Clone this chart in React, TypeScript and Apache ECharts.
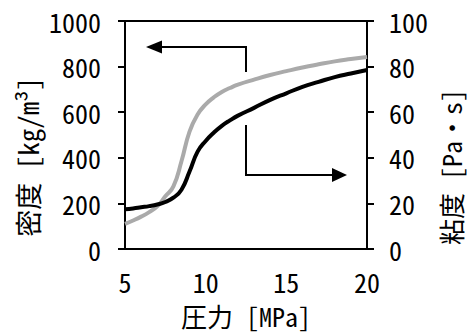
import React, { useEffect, useRef } from "react";
import * as echarts from "echarts";

const pressure = [5, 5.5, 6, 6.5, 7, 7.5, 8, 8.5, 9, 9.5, 10, 10.5, 11, 11.5, 12, 13, 14, 15, 16, 17, 18, 19, 20];
const density = [110, 125, 142, 162, 187, 231, 275, 385, 515, 590, 634, 665, 689, 706, 721, 743, 763, 780, 796, 810, 823, 833, 842];
const viscosity = [17.4, 17.8, 18.3, 18.8, 19.5, 20.6, 22.5, 26.0, 34.0, 42.7, 47.4, 51.0, 54.0, 56.4, 58.5, 61.9, 65.4, 68.3, 71.1, 73.3, 75.4, 77.0, 78.5];
const xTicks = [5, 10, 15, 20];
const xName = "圧力 [MPa]";
const leftName = "密度 [kg/m³]";
const rightName = "粘度 [Pa・s]";

const FONT = "'Noto Sans Mono CJK JP', 'Noto Sans CJK JP', sans-serif";

export default function App() {
  const ref = useRef<HTMLDivElement>(null);
  useEffect(() => {
    const chart = echarts.init(ref.current!, undefined, { renderer: "svg" });
    const axisLine = { show: true, lineStyle: { color: "#000", width: 2 } };
    const plain = (v: number) => String(v);
    chart.setOption({
      animation: false,
      backgroundColor: "#fff",
      textStyle: { fontFamily: FONT, color: "#000" },
      grid: {
        left: 125,
        right: 102,
        top: 21,
        bottom: 84,
        show: true,
        borderColor: "#000",
        borderWidth: 2,
      },
      xAxis: {
        type: "value",
        min: xTicks[0],
        max: xTicks[xTicks.length - 1],
        interval: 5,
        axisLine,
        axisTick: { show: false },
        splitLine: { show: false },
        axisLabel: { color: "#000", fontSize: 26, fontFamily: FONT, margin: 19, formatter: plain },
      },
      yAxis: [
        {
          type: "value",
          min: 0,
          max: 1000,
          interval: 200,
          position: "left",
          axisLine,
          axisTick: { show: true, inside: false, length: 7, lineStyle: { color: "#000", width: 2 } },
          splitLine: { show: false },
          axisLabel: { color: "#000", fontSize: 26, fontFamily: FONT, margin: 24, formatter: plain },
        },
        {
          type: "value",
          min: 0,
          max: 100,
          interval: 20,
          position: "right",
          axisLine,
          axisTick: { show: true, inside: false, length: 7, lineStyle: { color: "#000", width: 2 } },
          splitLine: { show: false },
          axisLabel: { color: "#000", fontSize: 26, fontFamily: FONT, margin: 22, formatter: plain },
        },
      ],
      graphic: [
        {
          type: "text",
          x: 27,
          y: 157,
          rotation: Math.PI / 2,
          style: { text: leftName, font: `27px ${FONT}`, fill: "#000", align: "center", verticalAlign: "middle" },
        },
        {
          type: "text",
          x: 450,
          y: 167,
          rotation: Math.PI / 2,
          style: { text: rightName, font: `26px ${FONT}`, fill: "#000", align: "center", verticalAlign: "middle" },
        },
        {
          type: "text",
          x: 246,
          y: 315,
          style: { text: xName, font: `26px ${FONT}`, fill: "#000", align: "center", verticalAlign: "middle" },
        },
        {
          type: "polyline",
          shape: { points: [[246, 72], [246, 47], [160, 47]] },
          style: { stroke: "#000", lineWidth: 2, fill: "none" },
        },
        {
          type: "polygon",
          shape: { points: [[146, 47], [162, 40.5], [162, 53.5]] },
          style: { fill: "#000" },
        },
        {
          type: "polyline",
          shape: { points: [[246, 125], [246, 175], [334, 175]] },
          style: { stroke: "#000", lineWidth: 2, fill: "none" },
        },
        {
          type: "polygon",
          shape: { points: [[347, 175], [332, 168], [332, 182]] },
          style: { fill: "#000" },
        },
      ],
      series: [
        {
          type: "line",
          name: "密度",
          yAxisIndex: 0,
          data: pressure.map((p, i) => [p, density[i]]),
          smooth: 0.5,
          showSymbol: false,
          lineStyle: { color: "#aaaaaa", width: 4 },
        },
        {
          type: "line",
          name: "粘度",
          yAxisIndex: 1,
          data: pressure.map((p, i) => [p, viscosity[i]]),
          smooth: 0.5,
          showSymbol: false,
          lineStyle: { color: "#000", width: 4 },
        },
      ],
    });
    return () => chart.dispose();
  }, []);
  return <div ref={ref} style={{ width: 469, height: 333, position: "absolute", left: 0, top: 0 }} />;
}
